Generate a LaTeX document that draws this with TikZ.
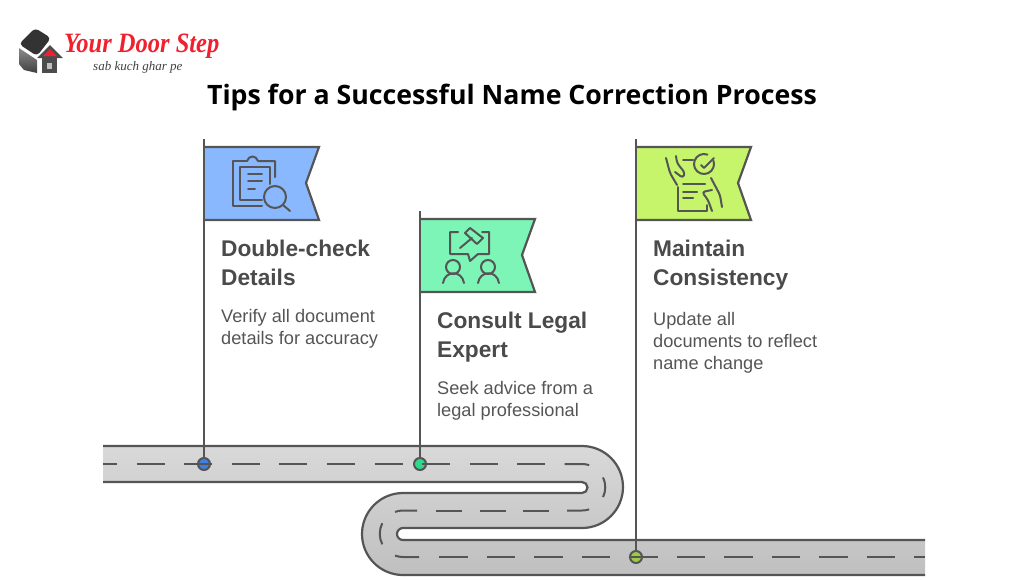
\documentclass[tikz,border=0pt]{standalone}
\usepackage{fontspec}
\usepackage{xcolor}
\setmainfont{Liberation Sans}
\newfontfamily\titlefont{Open Sans}
\newfontfamily\logofont{Liberation Serif}
\definecolor{inkgray}{HTML}{555555}
\definecolor{textgray}{HTML}{4A4A4A}
\definecolor{flagblue}{HTML}{89B8FF}
\definecolor{flagmint}{HTML}{7DF5B6}
\definecolor{flaglime}{HTML}{C6F56B}
\definecolor{dotblue}{HTML}{3F7FE6}
\definecolor{dotmint}{HTML}{2ED98A}
\definecolor{dotlime}{HTML}{9CCB45}
\definecolor{logored}{HTML}{F0202E}
\tikzset{
  roadedge/.style={draw=inkgray,line width=2.2pt},
  roadmark/.style={draw=inkgray,line width=2pt},
  pole/.style={draw=inkgray,line width=2.2pt},
  flagshape/.style={draw=inkgray,line width=2.2pt,line join=miter},
  iconline/.style={draw=inkgray,line width=2pt,line cap=round,line join=round},
  roaddot/.style={circle,draw=inkgray,line width=2pt,minimum size=12pt,inner sep=0pt},
  headtext/.style={anchor=north west,align=left,inner sep=0pt,font=\bfseries\fontsize{22.7}{29}\selectfont,text=textgray},
  bodytext/.style={anchor=north west,align=left,inner sep=0pt,font=\fontsize{18.2}{22}\selectfont,text=inkgray},
}
\begin{document}
\begin{tikzpicture}[x=1pt,y=-1pt]
	\useasboundingbox (0,0) rectangle (1024,579);
	% logo
	\fill [black!80,rounded corners=4pt] (19,44) -- (35,28) -- (51,38) -- (37,56) -- cycle;
	\shade [top color=black!45,bottom color=black!75] (19,48) -- (37,60) -- (37,73) -- (24,70) -- (19,64) -- cycle;
	\fill [black!70] (42,58) rectangle (57,73);
	\fill [black!25] (47,63) rectangle (52,69);
	\fill [black!70] (50,45) -- (37,58) -- (63,58) -- cycle;
	\fill [logored] (50,49) -- (43,56) -- (57,56) -- cycle;
	\node [anchor=west,inner sep=0pt,text=logored,xscale=0.875,transform shape] (logoname) at (64,46) {\logofont\bfseries\itshape\fontsize{28}{28}\selectfont Your Door Step};
	\node [anchor=west,inner sep=0pt,text=black!75] (logotag) at (93,67) {\logofont\itshape\fontsize{13}{13}\selectfont sab kuch ghar pe};
	% title
	\node [inner sep=0pt] (title) at (512,97) {\titlefont\bfseries\fontsize{26.7}{27}\selectfont Tips for a Successful Name Correction Process};
	% road
	\shade [top color=black!15,bottom color=black!25] (103,446) -- (582,446) arc [start angle=-90,end angle=90,radius=41] -- (403,528) arc [start angle=-90,end angle=-270,radius=6] -- (925,540) -- (925,575) -- (403,575) arc [start angle=90,end angle=270,radius=41] -- (582,493) arc [start angle=90,end angle=-90,radius=5.5] -- (103,482) -- cycle;
	\draw [roadedge] (103,446) -- (582,446) arc [start angle=-90,end angle=90,radius=41] -- (403,528) arc [start angle=-90,end angle=-270,radius=6] -- (925,540);
	\draw [roadedge] (925,575) -- (403,575) arc [start angle=90,end angle=270,radius=41] -- (582,493) arc [start angle=90,end angle=-90,radius=5.5] -- (103,482);
	% flags
	\draw [flagshape,fill=flagblue] (204,147) -- (319,147) -- (306,183) -- (319,220) -- (204,220);
	\draw [flagshape,fill=flagmint] (420,219) -- (535,219) -- (522,255) -- (535,292) -- (420,292);
	\draw [flagshape,fill=flaglime] (636,147) -- (751,147) -- (738,183) -- (751,220) -- (636,220);
	% poles
	\coordinate (topa) at (204,139);
	\coordinate (topb) at (420,211);
	\coordinate (topc) at (636,139);
	\node [roaddot,fill=dotblue] (dota) at (204,464) {};
	\node [roaddot,fill=dotmint] (dotb) at (420,464) {};
	\node [roaddot,fill=dotlime] (dotc) at (636,557) {};
	\draw [pole] (topa) -- (dota);
	\draw [pole] (topb) -- (dotb);
	\draw [pole] (topc) -- (dotc);
	% road marks
	\draw [roadmark,dash pattern=on 28pt off 19.6pt,dash phase=14pt] (103,464) -- (564,464);
	\draw [roadmark] (564.5,464) -- (582,464) arc [start angle=-90,end angle=-72,radius=23.25];
	\draw [roadmark] ([shift={(582,487.25)}]-25:23.25) arc [start angle=-25,end angle=25,radius=23.25];
	\draw [roadmark] ([shift={(582,487.25)}]72:23.25) arc [start angle=72,end angle=90,radius=23.25] -- (567,510.5);
	\draw [roadmark,dash pattern=on 26pt off 17.5pt] (436,510.5) -- (549,510.5);
	\draw [roadmark] (417,510.5) -- (403,510.5) arc [start angle=-90,end angle=-110,radius=23.25];
	\draw [roadmark] ([shift={(403,533.75)}]153:23.25) arc [start angle=153,end angle=207,radius=23.25];
	\draw [roadmark] ([shift={(403,533.75)}]110:23.25) arc [start angle=110,end angle=90,radius=23.25] -- (419,557);
	\draw [roadmark,dash pattern=on 28.5pt off 19pt] (439,557) -- (925,557);
	% clipboard icon
	\draw [iconline] (247,161) -- (233,161) -- (233,206) -- (262,206);
	\draw [iconline] (247,161) .. controls (249,155) and (256,155) .. (258,161) -- (275,161) -- (275,177);
	\draw [iconline] (240,167) -- (270,167) -- (270,184);
	\draw [iconline] (240,167) -- (240,200) -- (262,200);
	\draw [iconline] (248,174) -- (262,174);
	\draw [iconline] (248,181) -- (262,181);
	\draw [iconline] (248,189) -- (255,189);
	\draw [iconline] (275,197) circle [radius=11];
	\draw [iconline] (283,205) -- (290,211);
	% gavel icon
	\draw [iconline] (458,232) -- (450,232) -- (450,254) -- (468,254) -- (470,261) -- (478,254) -- (489,254) -- (489,232) -- (482,232);
	\draw [iconline] (460,248) -- (472,238);
	\draw [iconline] (465,233) -- (470,228) -- (483,238) -- (477,244) -- cycle;
	\draw [iconline] (453,267) circle [radius=7];
	\draw [iconline] (488,267) circle [radius=7];
	\draw [iconline] (443,283) .. controls (445,270) and (462,270) .. (464,283);
	\draw [iconline] (478,283) .. controls (480,270) and (497,270) .. (499,283);
	% checklist icon
	\draw [iconline] ([shift={(704,164)}]-70:10) arc [start angle=-70,end angle=-380,radius=10];
	\draw [iconline] (701,165) -- (704,168) -- (714,158);
	\draw [iconline] (683,160) -- (693,160);
	\draw [iconline] (678,187) -- (678,211) -- (707,211) -- (707,205);
	\draw [iconline] (683,184) -- (705,184);
	\draw [iconline] (683,192) -- (697,192);
	\draw [iconline] (683,198) -- (693,198);
	\draw [iconline,rounded corners=3pt] (666,158) -- (670,173) -- (677,185);
	\draw [iconline,rounded corners=3pt] (676,156) -- (677,163) -- (685,173) -- (683,178) -- (675,172);
	\draw [iconline,rounded corners=3pt] (711,178) -- (720,195) -- (722,207);
	\draw [iconline,rounded corners=3pt] (712,190) -- (702,192) -- (708,200) -- (712,211);
	% texts
	\node [headtext] (heada) at (221,240) {Double-check\\Details};
	\node [bodytext] (bodya) at (221,309) {Verify all document\\details for accuracy};
	\node [headtext] (headb) at (437,312) {Consult Legal\\Expert};
	\node [bodytext] (bodyb) at (437,381) {Seek advice from a\\legal professional};
	\node [headtext] (headc) at (653,240) {Maintain\\Consistency};
	\node [bodytext] (bodyc) at (653,312) {Update all\\documents to reflect\\name change};
\end{tikzpicture}
\end{document}
